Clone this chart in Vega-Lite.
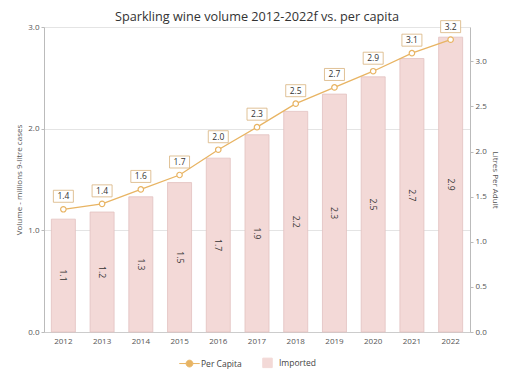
{
  "$schema": "https://vega.github.io/schema/vega-lite/v6.json",
  "width": 426,
  "height": 305,
  "autosize": {"type": "none"},
  "padding": {"left": 44, "top": 27, "right": 49, "bottom": 46},
  "background": "white",
  "title": {"text": "Sparkling wine volume 2012-2022f vs. per capita", "font": "Open Sans", "fontSize": 12.7, "fontWeight": "normal", "color": "#333333", "offset": -5, "anchor": "middle"},
  "config": {
    "font": "Open Sans",
    "view": {"stroke": null},
    "axis": {"labelFont": "Open Sans", "titleFont": "Open Sans", "labelFontSize": 8, "titleFontSize": 8, "labelColor": "#555555", "titleColor": "#555555", "titleFontWeight": "normal", "domainColor": "#bbbbbb", "tickColor": "#bbbbbb", "gridColor": "#e4e4e4"},
    "legend": {"labelFont": "Open Sans", "labelFontSize": 8.5, "labelColor": "#444444"}
  },
  "data": {"values": [
    {"year": "2012", "imported": 1.11, "percap": 1.36},
    {"year": "2013", "imported": 1.18, "percap": 1.42},
    {"year": "2014", "imported": 1.33, "percap": 1.58},
    {"year": "2015", "imported": 1.47, "percap": 1.74},
    {"year": "2016", "imported": 1.71, "percap": 2.02},
    {"year": "2017", "imported": 1.94, "percap": 2.27},
    {"year": "2018", "imported": 2.17, "percap": 2.53},
    {"year": "2019", "imported": 2.34, "percap": 2.71},
    {"year": "2020", "imported": 2.51, "percap": 2.89},
    {"year": "2021", "imported": 2.69, "percap": 3.09},
    {"year": "2022", "imported": 2.90, "percap": 3.24}
  ]},
  "encoding": {
    "x": {"field": "year", "type": "ordinal", "scale": {"paddingInner": 0.38, "paddingOuter": 0.19}, "axis": {"title": null, "labelAngle": 0, "ticks": false, "labelPadding": 5, "domainColor": "#cccccc"}}
  },
  "layer": [
    {
      "mark": {"type": "bar", "stroke": "#e2c2c0", "strokeWidth": 0.8},
      "encoding": {
        "y": {"field": "imported", "type": "quantitative", "scale": {"domain": [0, 3]}, "axis": {"title": "Volume - millions 9-litre cases", "values": [0, 1, 2, 3], "format": ".1f", "tickSize": 3, "grid": true, "titlePadding": 4}},
        "color": {"datum": "Imported", "type": "nominal", "scale": {"domain": ["Per Capita", "Imported"], "range": ["#e8b463", "#f3d9d7"]},
          "legend": {"title": null, "orient": "none", "legendX": 140, "legendY": 330, "direction": "horizontal", "columnPadding": 18, "labelOffset": 6,
            "encode": {"symbols": {"update": {
              "shape": {"signal": "datum.value === 'Per Capita' ? 'M-1,0H-0.33M0.33,0H1M-0.33,0A0.33,0.33 0 1,1 0.33,0A0.33,0.33 0 1,1 -0.33,0' : 'square'"},
              "size": {"signal": "datum.value === 'Per Capita' ? 420 : 90"},
              "fill": {"signal": "datum.value === 'Per Capita' ? 'white' : '#f3d9d7'"},
              "stroke": {"signal": "datum.value === 'Per Capita' ? '#e8b463' : '#e2c2c0'"},
              "strokeWidth": {"value": 1},
              "opacity": {"value": 1}
            }}}
          }}
      }
    },
    {
      "mark": {"type": "text", "angle": 90, "fontSize": 8.5, "color": "#333333", "font": "Open Sans"},
      "encoding": {
        "y": {"field": "imported", "type": "quantitative", "scale": {"domain": [0, 6]}, "axis": null},
        "text": {"field": "imported", "type": "quantitative", "format": ".1f"}
      }
    },
    {
      "encoding": {
        "y": {"field": "percap", "type": "quantitative", "scale": {"domain": [0, 3.38], "nice": false}, "axis": {"orient": "right", "title": "Litres Per Adult", "values": [0, 0.5, 1, 1.5, 2, 2.5, 3], "format": ".1f", "grid": false, "tickSize": 3, "titlePadding": 4}}
      },
      "layer": [
        {"mark": {"type": "line", "color": "#e8b463", "strokeWidth": 1.3},
          "encoding": {"color": {"datum": "Per Capita", "type": "nominal",
          "legend": {"title": null, "orient": "none", "legendX": 140, "legendY": 330, "direction": "horizontal", "columnPadding": 18, "labelOffset": 6,
            "encode": {"symbols": {"update": {
              "shape": {"signal": "datum.value === 'Per Capita' ? 'M-1,0H-0.33M0.33,0H1M-0.33,0A0.33,0.33 0 1,1 0.33,0A0.33,0.33 0 1,1 -0.33,0' : 'square'"},
              "size": {"signal": "datum.value === 'Per Capita' ? 420 : 90"},
              "fill": {"signal": "datum.value === 'Per Capita' ? 'white' : '#f3d9d7'"},
              "stroke": {"signal": "datum.value === 'Per Capita' ? '#e8b463' : '#e2c2c0'"},
              "strokeWidth": {"value": 1},
              "opacity": {"value": 1}
            }}}
          }}}},
        {"mark": {"type": "point", "shape": "circle", "filled": true, "fill": "white", "stroke": "#e8b463", "strokeWidth": 1.2, "size": 30, "opacity": 1}},
        {"mark": {"type": "point", "shape": "M-1,-0.6H1V0.6H-1Z", "filled": true, "fill": "white", "stroke": "#d8b27c", "strokeWidth": 0.8, "size": 400, "yOffset": -13, "opacity": 1}},
        {"mark": {"type": "text", "fontSize": 8.5, "color": "#333333", "dy": -13, "font": "Open Sans"},
          "encoding": {"text": {"field": "percap", "type": "quantitative", "format": ".1f"}}}
      ]
    }
  ],
  "resolve": {"scale": {"y": "independent"}}
}
